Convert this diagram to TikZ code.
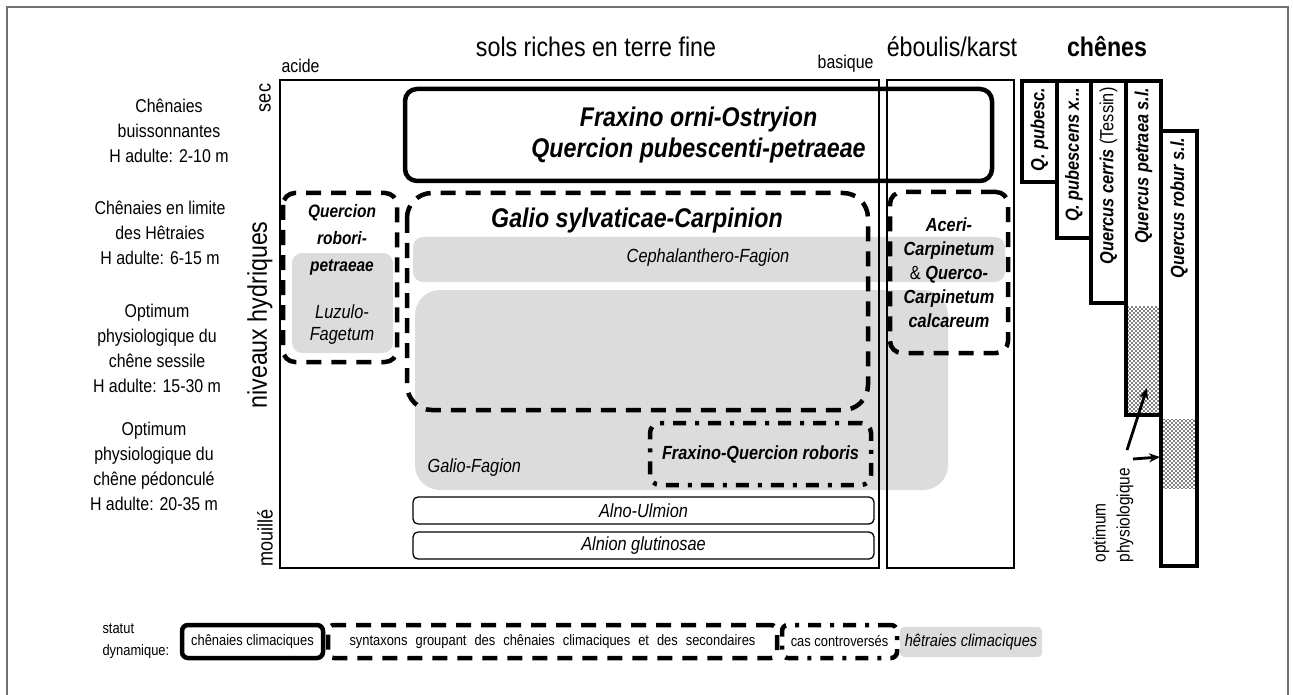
\documentclass[tikz,border=0pt]{standalone}
\usepackage{fontspec}
\setmainfont{Liberation Sans}[FakeStretch=0.86]
\usetikzlibrary{arrows.meta,patterns}

\definecolor{hetre}{HTML}{DCDCDC}
\definecolor{cadre}{HTML}{707070}

% dense dot screen for the optimum
\pgfdeclarepatternformonly{pointille}{\pgfqpoint{-1pt}{-1pt}}{\pgfqpoint{5pt}{5pt}}{\pgfqpoint{4pt}{4pt}}{%
  \pgfpathcircle{\pgfqpoint{0pt}{0pt}}{0.9pt}
  \pgfpathcircle{\pgfqpoint{2pt}{2pt}}{0.9pt}
  \pgfusepath{fill}}

\tikzset{
  climax/.style={draw, line width=4.5pt, rounded corners=12pt},
  mixte/.style={draw, line width=4.5pt, dash pattern=on 15pt off 10pt, rounded corners=12pt},
  controverse/.style={draw, line width=4.5pt, dash pattern=on 13pt off 9pt on 4pt off 9pt, rounded corners=10pt},
  hetraie/.style={fill=hetre, rounded corners=15pt},
  alliance/.style={draw, line width=1.3pt, rounded corners=5pt, font=\fontsize{19pt}{22pt}\selectfont\itshape},
  chene/.style={draw, line width=4.5pt},
  fleche/.style={line width=2.8pt, -{Stealth[length=11pt,width=9pt]}},
  titre/.style={font=\fontsize{27pt}{31pt}\selectfont},
  bord/.style={font=\fontsize{18.5pt}{22pt}\selectfont},
  hauteur/.style={align=center, font=\fontsize{18.5pt}{25pt}\selectfont},
  syntaxon/.style={align=center, font=\fontsize{27pt}{31pt}\selectfont\bfseries\itshape},
  petit/.style={align=center, font=\fontsize{19pt}{24pt}\selectfont\bfseries\itshape},
  hetretxt/.style={align=center, font=\fontsize{19pt}{22pt}\selectfont\itshape},
  chenetxt/.style={rotate=90, anchor=east, font=\fontsize{19pt}{22pt}\selectfont\bfseries\itshape},
  legende/.style={font=\fontsize{15pt}{22pt}\selectfont},
}

\begin{document}
\begin{tikzpicture}[x=1pt, y=-1pt]
  \useasboundingbox (0,0) rectangle (1293,695);
  % outer frame, open at the bottom
  \draw[cadre, line width=1.5pt] (7,695) -- (7,7) -- (1288,7) -- (1288,695);

  % grey beech zones first
  \fill[hetraie, rounded corners=10pt] (413,237) rectangle (1005,282);
  \fill[hetraie, rounded corners=25pt] (415,290) rectangle (948,490);
  \fill[hetraie, rounded corners=10pt] (292,253) rectangle (393,353);

  % soil columns
  \draw[line width=1.2pt] (280,80) rectangle (879,568);
  \draw[line width=1.2pt] (887,80) rectangle (1014,568);

  % column heads
  \node[bord, anchor=west] (acide) at (278,66) {acide};
  \node[titre] (sols) at (596,47) {sols riches en terre fine};
  \node[bord, anchor=east] (basique) at (877,64) {basique};
  \node[titre] (eboulis) at (952,47) {éboulis/karst};
  \node[titre, font=\fontsize{27pt}{31pt}\selectfont\bfseries] (chenes) at (1107,47) {chênes};

  % water axis
  \node[bord, rotate=90, font=\fontsize{21pt}{24pt}\selectfont] (sec) at (265,98) {sec};
  \node[titre, rotate=90] (niveaux) at (260,315) {niveaux hydriques};
  \node[bord, rotate=90, font=\fontsize{21pt}{24pt}\selectfont] (mouille) at (265,538) {mouillé};

  % oak stand heights
  \node[hauteur] (buis) at (169,131) {Chênaies\\buissonnantes\\H adulte: 2-10 m};
  \node[hauteur] (limite) at (160,233) {Chênaies en limite\\des Hêtraies\\H adulte: 6-15 m};
  \node[hauteur] (sessile) at (157,348) {Optimum\\physiologique du\\chêne sessile\\H adulte: 15-30 m};
  \node[hauteur] (pedoncule) at (154,466) {Optimum\\physiologique du\\chêne pédonculé\\H adulte: 20-35 m};

  % climax oak woods
  \node[climax, syntaxon, minimum width=587pt, minimum height=92pt] (fraxino) at (698.5,135)
    {Fraxino orni-Ostryion\\Quercion pubescenti-petraeae};

  % mixed syntaxa
  \draw[mixte] (283,193) rectangle (397,362);
  \node[petit, font=\fontsize{18pt}{27pt}\selectfont\bfseries\itshape] (robori) at (342,240) {Quercion\\robori-\\petraeae};
  \node[hetretxt] (luzulo) at (342,325) {Luzulo-\\Fagetum};
  \draw[mixte, rounded corners=25pt] (407,193) rectangle (868,410);
  \node[syntaxon] (carpinion) at (637,221) {Galio sylvaticae-Carpinion};
  \node[hetretxt] (cephal) at (708,258) {Cephalanthero-Fagion};
  \node[hetretxt, anchor=west] (galiofag) at (424,468) {Galio-Fagion};
  \node[mixte, petit, minimum width=118pt, minimum height=161pt] (aceri) at (949,272.5)
    {Aceri-\\Carpinetum\\{\mdseries\upshape\&} Querco-\\Carpinetum\\calcareum};

  % disputed case
  \node[controverse, petit, minimum width=221pt, minimum height=62pt] (fraxquer) at (760.5,454)
    {Fraxino-Quercion roboris};

  % alder woods
  \node[alliance, minimum width=461pt, minimum height=27pt] (alno) at (643.5,510.5) {Alno-Ulmion};
  \node[alliance, minimum width=461pt, minimum height=27pt] (alnion) at (643.5,545.5) {Alnion glutinosae};

  % oak species bars, stippled optimum
  \fill[pattern=pointille] (1126,306) rectangle (1161,415);
  \fill[pattern=pointille] (1161,419) rectangle (1197,488);
  \draw[chene] (1022,81) rectangle (1057,182);
  \draw[chene] (1057,81) rectangle (1091,238);
  \draw[chene] (1091,81) rectangle (1126,303);
  \draw[chene] (1126,81) rectangle (1161,415);
  \draw[chene] (1161,131) rectangle (1197,566);
  \node[chenetxt] (qpub) at (1039.5,84) {Q. pubesc.};
  \node[chenetxt] (qpubx) at (1074,84) {Q. pubescens x...};
  \node[chenetxt] (qcer) at (1108.5,84) {Quercus cerris {\mdseries\upshape (Tessin)}};
  \node[chenetxt] (qpet) at (1143.5,84) {Quercus petraea s.l.};
  \node[chenetxt] (qrob) at (1179,134) {Quercus robur s.l.};

  % physiological optimum
  \node[rotate=90, anchor=west, align=left, font=\fontsize{18pt}{24pt}\selectfont] (optimum) at (1113,566)
    {optimum\\physiologique};
  \coordinate (optA) at (1127,450);
  \coordinate (optB) at (1133,459);
  \coordinate (stipPet) at (1147,388);
  \coordinate (stipRob) at (1160,457);
  \draw[fleche] (optA) -- (stipPet);
  \draw[fleche] (optB) -- (stipRob);

  % legend
  \node[legende, align=left, anchor=west] (statut) at (99,641) {statut\\dynamique:};
  \node[climax, legende, rounded corners=6pt, minimum width=141pt, minimum height=33pt] (legclimax) at (252.5,641.5) {chênaies climaciques};
  \node[mixte, legende, rounded corners=6pt, minimum width=449pt, minimum height=33pt] (legmixte) at (552.5,641.5) {\spaceskip=8pt\relax syntaxons groupant des chênaies climaciques et des secondaires};
  \node[controverse, legende, rounded corners=6pt, minimum width=115pt, minimum height=33pt] (legcontro) at (839.5,641.5) {cas controversés};
  \node[hetraie, rounded corners=4pt, font=\fontsize{17pt}{20pt}\selectfont\itshape, minimum width=142pt, minimum height=30pt] (leghetre) at (971,642) {hêtraies climaciques};
\end{tikzpicture}
\end{document}
